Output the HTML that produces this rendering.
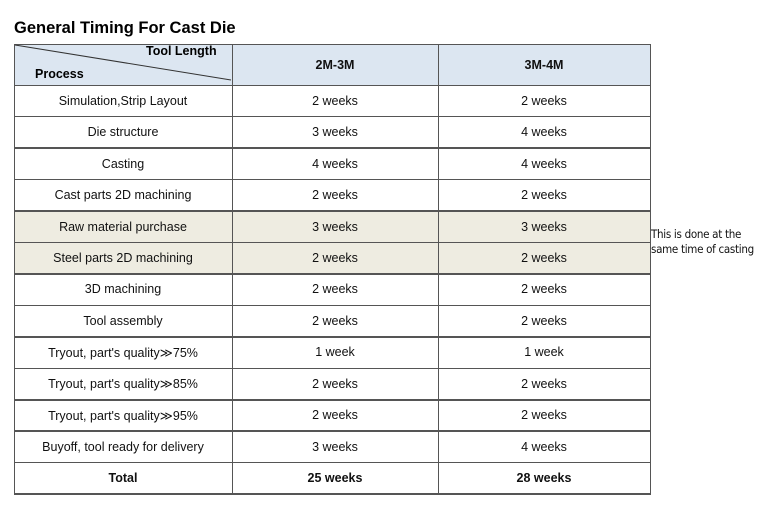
<!DOCTYPE html>
<html><head><meta charset="utf-8"><style>
body{margin:0;width:765px;height:529px;background:#fff;font-family:"Liberation Sans",Arial,sans-serif;position:relative;overflow:hidden}
.c{position:absolute;box-sizing:border-box;display:flex;align-items:center;justify-content:center;font-size:12.5px;color:#111}
.ln{position:absolute;background:#555}
</style></head><body>
<div style="position:absolute;left:14px;top:19px;font-size:16.5px;font-weight:bold;color:#000">General Timing For Cast Die</div>
<div id="t"></div>
<div style="position:absolute;left:651px;top:227px;font-size:11.5px;line-height:15px;color:#111;font-family:'DejaVu Sans Condensed','Liberation Sans',sans-serif;letter-spacing:-0.3px">This is done at the<br>same time of casting</div>
<script>
const processes=["Simulation,Strip Layout","Die structure","Casting","Cast parts 2D machining","Raw material purchase","Steel parts 2D machining","3D machining","Tool assembly","Tryout, part's quality\u226b75%","Tryout, part's quality\u226b85%","Tryout, part's quality\u226b95%","Buyoff,  tool ready for delivery","Total"];
const col2M=["2 weeks","3 weeks","4 weeks","2 weeks","3 weeks","2 weeks","2 weeks","2 weeks","1 week","2 weeks","2 weeks","3 weeks","25 weeks"];
const col3M=["2 weeks","4 weeks","4 weeks","2 weeks","3 weeks","2 weeks","2 weeks","2 weeks","1 week","2 weeks","2 weeks","4 weeks","28 weeks"];
const highlighted=[4,5];
const xs=[14,232,438,650],top0=44,hh=41,rh=31.45;
const t=document.getElementById('t');
function cell(x,y,w,h,txt,bg,bold,name){const d=document.createElement('div');d.className='c';


d.style.cssText=`left:${x}px;top:${y}px;width:${w}px;height:${h}px;background:${bg};font-weight:${bold?'bold':'normal'}`;d.textContent=txt;t.appendChild(d);return d;}
// header
cell(xs[0],top0,xs[1]-xs[0],hh,'','#dce6f1',false,'header-corner');
cell(xs[1],top0,xs[2]-xs[1],hh,'2M-3M','#dce6f1',true,'header-2m-3m');
cell(xs[2],top0,xs[3]-xs[2],hh,'3M-4M','#dce6f1',true,'header-3m-4m');
const tl=document.createElement('div');tl.textContent='Tool Length';


tl.style.cssText='position:absolute;left:146px;top:44px;font-size:12.5px;font-weight:bold';t.appendChild(tl);
const pl=document.createElement('div');pl.textContent='Process';


pl.style.cssText='position:absolute;left:35px;top:67px;font-size:12.5px;font-weight:bold';t.appendChild(pl);
const svg=document.createElementNS('http://www.w3.org/2000/svg','svg');


svg.setAttribute('width','765');svg.setAttribute('height','529');svg.style.cssText='position:absolute;left:0;top:0;pointer-events:none;z-index:2';
svg.innerHTML=`<line x1="15" y1="45" x2="231" y2="80" stroke="#333" stroke-width="1"/>`;
document.body.appendChild(svg);
processes.forEach((p,i)=>{const y=top0+hh+i*rh;const bg=highlighted.includes(i)?'#eeece1':'#fff';const b=i==processes.length-1;
cell(xs[0],y,xs[1]-xs[0],rh,p,bg,b,'process-cell');
cell(xs[1],y,xs[2]-xs[1],rh,col2M[i],bg,b,'value-2m-3m');
cell(xs[2],y,xs[3]-xs[2],rh,col3M[i],bg,b,'value-3m-4m');});
const bottom=top0+hh+processes.length*rh;
function line(x,y,w,h){const l=document.createElement('div');l.className='ln';


l.style.cssText=`left:${x}px;top:${y}px;width:${w}px;height:${h}px`;t.appendChild(l);}
xs.forEach(x=>line(x-0.5,top0,1.5,bottom-top0));
for(let i=0;i<=processes.length+1;i++){const y=i==0?top0:top0+hh+(i-1)*rh;line(xs[0],y-0.5,xs[3]-xs[0]+1,1.5);}
</script>
</body></html>
